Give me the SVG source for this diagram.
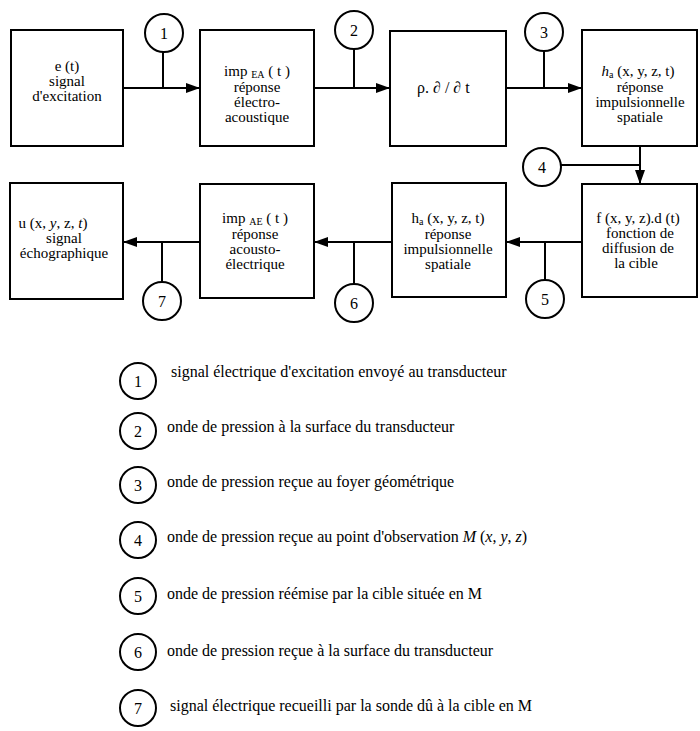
<svg xmlns="http://www.w3.org/2000/svg" width="700" height="731" viewBox="0 0 700 731">
<style>
.box{fill:none;stroke:#000;stroke-width:2}
.ln{fill:none;stroke:#000;stroke-width:2}
.cir{fill:#fff;stroke:#000;stroke-width:2}
text{font-family:"Liberation Serif","Times New Roman","DejaVu Serif",serif;fill:#000}
.t{font-size:15px;text-anchor:middle}
.n{font-size:16px;text-anchor:middle}
.lg{font-size:16px}
.sub{font-size:10px}
</style>
<defs>
<marker id="arr" markerUnits="userSpaceOnUse" markerWidth="14" markerHeight="10" refX="14" refY="5" orient="auto">
<path d="M0,0 L14,5 L0,10 z" fill="#000"/>
</marker>
</defs>
<rect width="700" height="731" fill="#fff"/>
<g id="connectors">
<path class="ln" d="M123,88 H200" marker-end="url(#arr)"/>
<path class="ln" d="M163,52 V88"/>
<path class="ln" d="M314,88 H390" marker-end="url(#arr)"/>
<path class="ln" d="M354,49 V88"/>
<path class="ln" d="M506,88 H582" marker-end="url(#arr)"/>
<path class="ln" d="M544,51 V88"/>
<path class="ln" d="M640,146 V184" marker-end="url(#arr)"/>
<path class="ln" d="M561,165 H640"/>
<path class="ln" d="M582,242 H506" marker-end="url(#arr)"/>
<path class="ln" d="M545,242 V281"/>
<path class="ln" d="M392,242 H314" marker-end="url(#arr)"/>
<path class="ln" d="M354,242 V284"/>
<path class="ln" d="M200,242 H123" marker-end="url(#arr)"/>
<path class="ln" d="M162,242 V282"/>
</g>
<g id="n-excitation">
<rect class="box" x="11" y="30" width="112" height="116"/>
<text class="t" x="67" y="71">e (t)</text>
<text class="t" x="67" y="86">signal</text>
<text class="t" x="67" y="101">d'excitation</text>
</g>
<g id="n-impEA">
<rect class="box" x="200" y="30" width="114" height="116"/>
<text class="t" x="257" y="76">imp <tspan class="sub" dy="2">EA</tspan><tspan dy="-2"> ( t )</tspan></text>
<text class="t" x="257" y="92">réponse</text>
<text class="t" x="257" y="107">électro-</text>
<text class="t" x="257" y="122">acoustique</text>
</g>
<g id="n-derivee">
<rect class="box" x="390" y="31" width="116" height="115"/>
<text class="lg" x="417" y="93">ρ. ∂ / ∂ t</text>
</g>
<g id="n-ha-top">
<rect class="box" x="582" y="30" width="115" height="116"/>
<text class="t" x="638" y="76"><tspan font-style="italic">h</tspan><tspan class="sub" dy="2">a</tspan><tspan dy="-2"> (x, y, z, t)</tspan></text>
<text class="t" x="640" y="92">réponse</text>
<text class="t" x="640" y="107">impulsionnelle</text>
<text class="t" x="640" y="122">spatiale</text>
</g>
<g id="n-diffusion">
<rect class="box" x="582" y="184" width="115" height="113"/>
<text class="t" x="638" y="223">f (x, y, z).d (t)</text>
<text class="t" x="640" y="238">fonction de</text>
<text class="t" x="638" y="253">diffusion de</text>
<text class="t" x="636" y="268">la cible</text>
</g>
<g id="n-ha-bottom">
<rect class="box" x="392" y="183" width="114" height="114"/>
<text class="t" x="448" y="223">h<tspan class="sub" dy="2">a</tspan><tspan dy="-2"> (x, y, z, t)</tspan></text>
<text class="t" x="448" y="239">réponse</text>
<text class="t" x="448" y="254">impulsionnelle</text>
<text class="t" x="448" y="269">spatiale</text>
</g>
<g id="n-impAE">
<rect class="box" x="200" y="184" width="114" height="114"/>
<text class="t" x="255" y="223">imp <tspan class="sub" dy="2">AE</tspan><tspan dy="-2"> ( t )</tspan></text>
<text class="t" x="255" y="239">réponse</text>
<text class="t" x="255" y="254">acousto-</text>
<text class="t" x="255" y="269">électrique</text>
</g>
<g id="n-echo">
<rect class="box" x="10" y="183" width="113" height="116"/>
<text class="t" x="53" y="228">u (x, <tspan font-style="italic">y</tspan>, z, <tspan font-style="italic">t</tspan>)</text>
<text class="t" x="64" y="243">signal</text>
<text class="t" x="64" y="258">échographique</text>
</g>
<g id="c1"><circle class="cir" cx="164" cy="33" r="19"/><text class="n" x="164" y="39">1</text></g>
<g id="c2"><circle class="cir" cx="354" cy="30" r="19"/><text class="n" x="354" y="36">2</text></g>
<g id="c3"><circle class="cir" cx="544" cy="32" r="19"/><text class="n" x="544" y="38">3</text></g>
<g id="c4"><circle class="cir" cx="542" cy="167" r="19"/><text class="n" x="542" y="173">4</text></g>
<g id="c5"><circle class="cir" cx="545" cy="299" r="19"/><text class="n" x="545" y="305">5</text></g>
<g id="c6"><circle class="cir" cx="354" cy="303" r="19"/><text class="n" x="354" y="309">6</text></g>
<g id="c7"><circle class="cir" cx="162" cy="301" r="19"/><text class="n" x="162" y="307">7</text></g>
<g id="legend">
<g id="l1"><circle class="cir" cx="138" cy="381" r="18"/><text class="n" x="138" y="387">1</text><text class="lg" x="171" y="377">signal électrique d'excitation envoyé au transducteur</text></g>
<g id="l2"><circle class="cir" cx="138" cy="431" r="18"/><text class="n" x="138" y="437">2</text><text class="lg" x="167" y="432">onde de pression à la surface du transducteur</text></g>
<g id="l3"><circle class="cir" cx="138" cy="485" r="18"/><text class="n" x="138" y="491">3</text><text class="lg" x="167" y="487">onde de pression reçue au foyer géométrique</text></g>
<g id="l4"><circle class="cir" cx="138" cy="540" r="18"/><text class="n" x="138" y="546">4</text><text class="lg" x="167" y="542">onde de pression reçue au point d'observation <tspan font-style="italic">M</tspan> (<tspan font-style="italic">x</tspan>, <tspan font-style="italic">y</tspan>, <tspan font-style="italic">z</tspan>)</text></g>
<g id="l5"><circle class="cir" cx="138" cy="596" r="18"/><text class="n" x="138" y="602">5</text><text class="lg" x="167" y="599">onde de pression réémise par la cible située en M</text></g>
<g id="l6"><circle class="cir" cx="138" cy="652" r="18"/><text class="n" x="138" y="658">6</text><text class="lg" x="167" y="656">onde de pression reçue à la surface du transducteur</text></g>
<g id="l7"><circle class="cir" cx="138" cy="708" r="18"/><text class="n" x="138" y="714">7</text><text class="lg" x="170" y="711">signal électrique recueilli par la sonde dû à la cible en M</text></g>
</g>
</svg>
